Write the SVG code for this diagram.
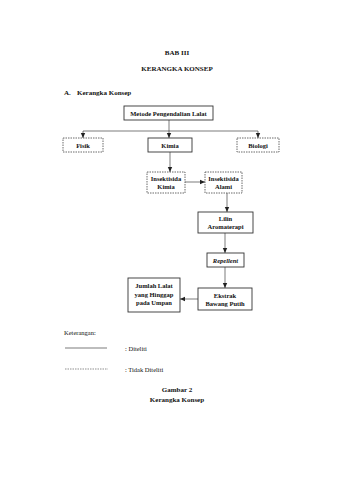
<svg xmlns="http://www.w3.org/2000/svg" width="339" height="480" viewBox="0 0 339 480">
<style>
text{font-family:"Liberation Serif","Times New Roman",serif;fill:#111}
.b{font-weight:bold;font-size:6.5px}
.t{font-weight:bold;font-size:7px}
.n{font-size:6.5px}
.solid{fill:#fff;stroke:#333;stroke-width:0.9}
.dash{fill:#fff;stroke:#444;stroke-width:0.8;stroke-dasharray:1.5 1}
.ln{stroke:#444;stroke-width:0.7;fill:none}
</style>
<defs>
<marker id="ah" markerWidth="6" markerHeight="6" refX="5" refY="3" orient="auto" markerUnits="userSpaceOnUse">
<path d="M0,0.8 L5,3 L0,5.2 Z" fill="#222"/>
</marker>
</defs>
<rect width="339" height="480" fill="#fff"/>
<text class="t" x="177" y="55" text-anchor="middle">BAB III</text>
<text class="t" x="177" y="71" text-anchor="middle">KERANGKA KONSEP</text>
<text class="t" x="64" y="95">A.</text>
<text class="t" x="77" y="95">Kerangka Konsep</text>

<g id="connectors">
<path class="ln" d="M169,120 V131"/>
<path class="ln" d="M83,131 H258"/>
<path class="ln" d="M83,131 V138" marker-end="url(#ah)"/>
<path class="ln" d="M169,131 V138" marker-end="url(#ah)"/>
<path class="ln" d="M258,131 V138" marker-end="url(#ah)"/>
<path class="ln" d="M170,152 V172" marker-end="url(#ah)"/>
<path class="ln" d="M185,182 H205" marker-end="url(#ah)"/>
<path class="ln" d="M227,193 V212" marker-end="url(#ah)"/>
<path class="ln" d="M225,233 V253" marker-end="url(#ah)"/>
<path class="ln" d="M225,267 V288" marker-end="url(#ah)"/>
<path class="ln" d="M198,299 H180" marker-end="url(#ah)"/>
</g>

<g id="metode">
<rect class="solid" x="124" y="106" width="89" height="14"/>
<text class="b" x="168.5" y="115.5" text-anchor="middle">Metode Pengendalian Lalat</text>
</g>
<g id="fisik">
<rect class="dash" x="63" y="138" width="40" height="14"/>
<text class="b" x="83" y="147.5" text-anchor="middle">Fisik</text>
</g>
<g id="kimia">
<rect class="solid" x="148" y="138" width="44" height="14"/>
<text class="b" x="170" y="147.5" text-anchor="middle">Kimia</text>
</g>
<g id="biologi">
<rect class="dash" x="237" y="138" width="42" height="14"/>
<text class="b" x="258" y="147.5" text-anchor="middle">Biologi</text>
</g>
<g id="insektisida-kimia">
<rect class="dash" x="147" y="172" width="38" height="21"/>
<text class="b" x="166" y="181" text-anchor="middle">Insektisida</text>
<text class="b" x="166" y="189" text-anchor="middle">Kimia</text>
</g>
<g id="insektisida-alami">
<rect class="dash" x="205" y="172" width="37" height="21"/>
<text class="b" x="223.5" y="181" text-anchor="middle">Insektisida</text>
<text class="b" x="223.5" y="189" text-anchor="middle">Alami</text>
</g>
<g id="lilin">
<rect class="solid" x="198" y="212" width="55" height="21"/>
<text class="b" x="225.5" y="221" text-anchor="middle">Lilin</text>
<text class="b" x="225.5" y="229" text-anchor="middle">Aromaterapi</text>
</g>
<g id="repellent">
<rect class="solid" x="207" y="253" width="37" height="14"/>
<text class="b" x="225.5" y="262.5" text-anchor="middle" font-style="italic">Repellent</text>
</g>
<g id="ekstrak">
<rect class="solid" x="198" y="288" width="54" height="22"/>
<text class="b" x="225" y="297.5" text-anchor="middle">Ekstrak</text>
<text class="b" x="225" y="305.5" text-anchor="middle">Bawang Putih</text>
</g>
<g id="jumlah">
<rect class="solid" x="128" y="278" width="52" height="34"/>
<text class="b" x="154" y="288" text-anchor="middle">Jumlah Lalat</text>
<text class="b" x="154" y="296.5" text-anchor="middle">yang Hinggap</text>
<text class="b" x="154" y="305" text-anchor="middle">pada Umpan</text>
</g>

<g id="legend">
<text class="n" x="64" y="335">Keterangan:</text>
<path d="M65,348 H107" stroke="#444" stroke-width="0.7"/>
<text class="n" x="125" y="351">: Diteliti</text>
<path d="M65,369 H108" stroke="#444" stroke-width="0.6" stroke-dasharray="1.5 1"/>
<text class="n" x="125" y="372">: Tidak Diteliti</text>
</g>
<text class="t" x="177" y="392" text-anchor="middle">Gambar 2</text>
<text class="t" x="177" y="402" text-anchor="middle">Kerangka Konsep</text>
</svg>
